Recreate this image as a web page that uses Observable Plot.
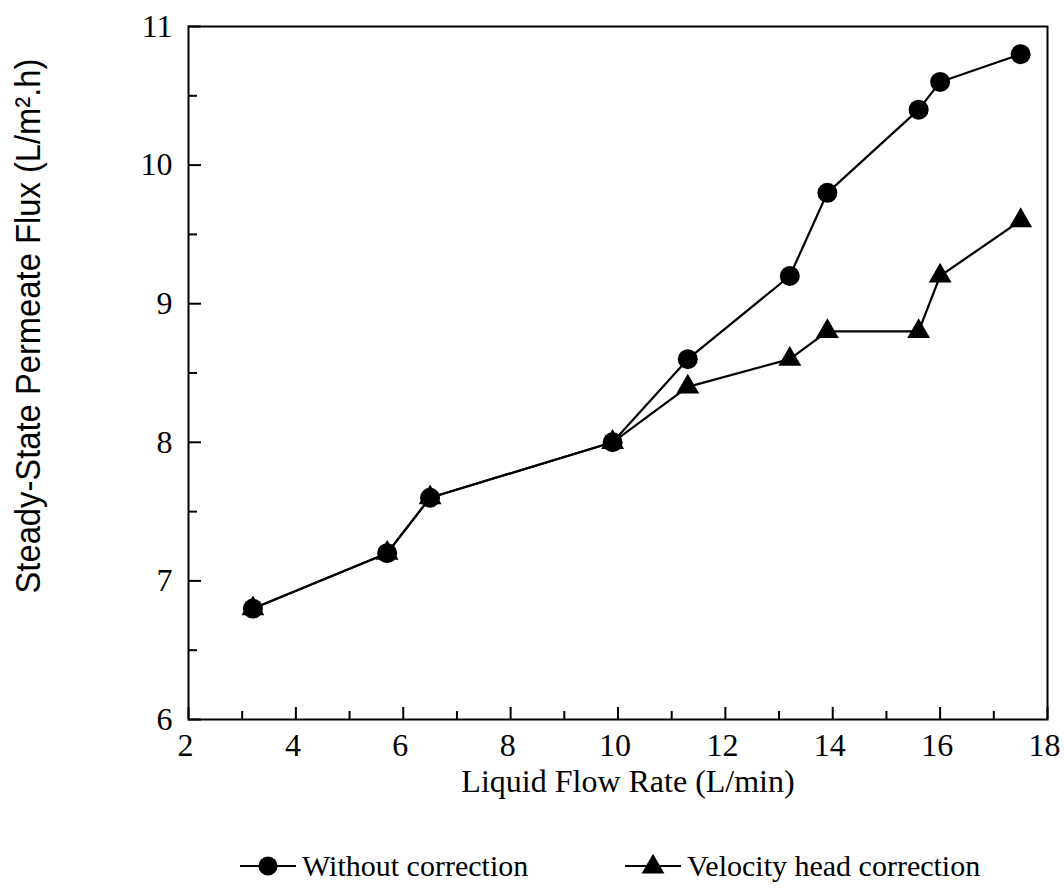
<!DOCTYPE html>
<html>
<head>
<meta charset="utf-8">
<script src="https://cdn.jsdelivr.net/npm/d3@7"></script>
<script src="https://cdn.jsdelivr.net/npm/@observablehq/plot@0.6"></script>
<style>
  html, body { margin: 0; padding: 0; background: white; }
  #wrap { width: 1064px; height: 894px; position: relative; overflow: hidden; }
  #legend { position: absolute; left: 0; top: 0; width: 1064px; height: 894px; pointer-events: none; }
  .item { position: absolute; display: flex; align-items: center; font-family: "Liberation Serif", "Times New Roman", serif; font-size: 30px; color: black; white-space: nowrap; }
  .item svg { display: block; margin-right: 6px; }
</style>
</head>
<body>
<div id="wrap"><div id="chart"></div><div id="legend"></div></div>
<script>
// ---- data ----
const flowRate = [3.2, 5.7, 6.5, 9.9, 11.3, 13.2, 13.9, 15.6, 16.0, 17.5];
const withoutCorrection = [6.8, 7.2, 7.6, 8.0, 8.6, 9.2, 9.8, 10.4, 10.6, 10.8];
const velocityHeadCorrection = [6.8, 7.2, 7.6, 8.0, 8.4, 8.6, 8.8, 8.8, 9.2, 9.6];
const seriesNames = ["Without correction", "Velocity head correction"];
const xMajor = [2, 4, 6, 8, 10, 12, 14, 16, 18];
const xMinor = [3, 5, 7, 9, 11, 13, 15, 17];
const yMajor = [6, 7, 8, 9, 10, 11];
const yMinor = [6.5, 7.5, 8.5, 9.5, 10.5];
const xTitle = "Liquid Flow Rate (L/min)";
const yTitle = "Steady-State Permeate Flux (L/m\u00B2.h)";

const wc = flowRate.map((x, i) => ({x, y: withoutCorrection[i]}));
const vh = flowRate.map((x, i) => ({x, y: velocityHeadCorrection[i]}));

const chart = Plot.plot({
  width: 1064,
  height: 815,
  marginLeft: 188,
  marginRight: 17,
  marginTop: 26,
  marginBottom: 96,
  x: {domain: [2, 18]},
  y: {domain: [6, 11]},
  style: {fontFamily: "Liberation Serif, Times New Roman, serif", fontSize: "32px", color: "black", background: "white"},
  marks: [
    Plot.frame({stroke: "black", strokeWidth: 2}),
    Plot.axisX(xMajor, {tickSize: -12, fill: "none", label: null, strokeWidth: 2}),
    Plot.axisX(xMinor, {tickSize: -8, fill: "none", label: null, strokeWidth: 2}),
    Plot.axisY(yMajor, {tickSize: -13, fill: "none", label: null, strokeWidth: 2}),
    Plot.axisY(yMinor, {tickSize: -9, fill: "none", label: null, strokeWidth: 2}),
    Plot.axisX(xMajor, {tickSize: 0, tickPadding: 14, fontSize: 32, label: null, dx: -3, tickFormat: d => String(d)}),
    Plot.axisY(yMajor, {tickSize: 0, tickPadding: 16, fontSize: 32, label: null, tickFormat: d => String(d)}),
    Plot.text([xTitle], {text: d => d, frameAnchor: "bottom", dy: 62, dx: 10, fontSize: 32, lineAnchor: "middle"}),
    Plot.text([yTitle], {text: d => d, frameAnchor: "left", textAnchor: "middle", dx: -160, dy: -47, rotate: -90, fontSize: 35, fontFamily: "Liberation Sans, Arial, sans-serif", lineAnchor: "middle"}),
    Plot.line(vh, {x: "x", y: "y", stroke: "black", strokeWidth: 2.2}),
    Plot.line(wc, {x: "x", y: "y", stroke: "black", strokeWidth: 2.2}),
    Plot.dot(vh, {x: "x", y: "y", symbol: "triangle", r: 8.5, fill: "black"}),
    Plot.dot(wc, {x: "x", y: "y", symbol: "circle", r: 10, fill: "black"})
  ]
});
document.getElementById("chart").appendChild(chart);

// fit the y title length to the reference
chart.querySelectorAll("text").forEach(t => {
  if (t.textContent === yTitle) {
    t.setAttribute("textLength", "535");
    t.setAttribute("lengthAdjust", "spacingAndGlyphs");
  }
});

// ---- legend ----
const legend = document.getElementById("legend");
function addItem(left, top, name, kind) {
  const div = document.createElement("div");
  div.className = "item";
  div.style.left = left + "px";
  div.style.top = top + "px";
  const s = d3.create("svg").attr("width", 56).attr("height", 24);
  s.append("line").attr("x1", 0).attr("x2", 56).attr("y1", 12).attr("y2", 12).attr("stroke", "black").attr("stroke-width", 2.2);
  if (kind === "circle") s.append("circle").attr("cx", 28).attr("cy", 12).attr("r", 9.5).attr("fill", "black");
  else s.append("path").attr("d", d3.symbol(d3.symbolTriangle, Math.PI * 8.5 * 8.5)()).attr("transform", "translate(28,13)").attr("fill", "black");
  div.appendChild(s.node());
  const span = document.createElement("span");
  span.textContent = name;
  div.appendChild(span);
  legend.appendChild(div);
}
addItem(240, 849, seriesNames[0], "circle");
addItem(625, 849, seriesNames[1], "triangle");
</script>
</body>
</html>
